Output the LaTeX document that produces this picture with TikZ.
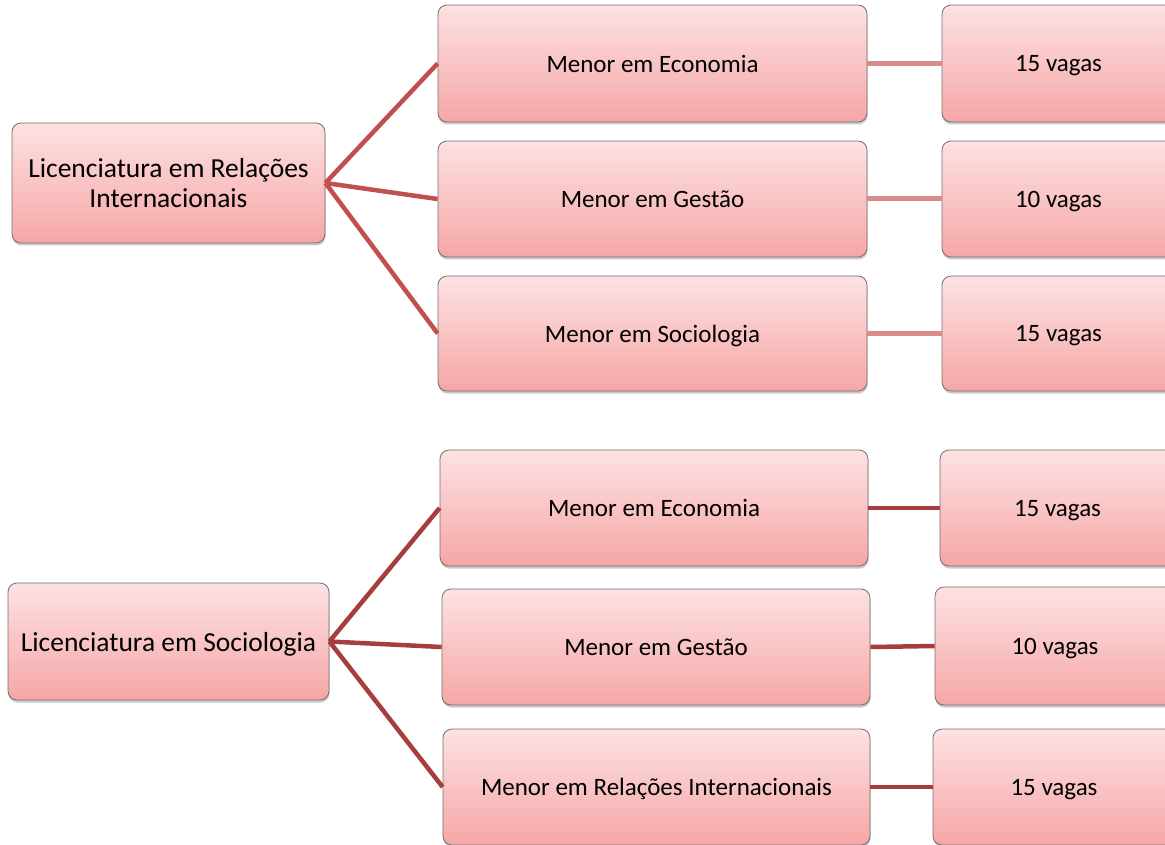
\documentclass[tikz,border=0pt]{standalone}
\usepackage{fontspec}
\setmainfont{Carlito}
\usetikzlibrary{shadows}
\definecolor{boxtop}{RGB}{253,226,227}
\definecolor{boxbot}{RGB}{246,166,166}
\definecolor{boxline}{RGB}{120,110,110}
\definecolor{linkA}{RGB}{192,80,77}
\definecolor{linkB}{RGB}{216,140,140}
\definecolor{linkC}{RGB}{165,62,60}
\tikzset{
  box/.style={draw=boxline, line width=0.8pt, rounded corners=9pt, top color=boxtop, bottom color=boxbot,
    align=center, inner sep=0pt, text depth=0pt, font=\fontsize{25}{29}\selectfont,
    drop shadow={opacity=0.35, shadow xshift=0.5pt, shadow yshift=-2.5pt, fill=black!60}},
  rootbox/.style={box, font=\fontsize{27.5}{30}\selectfont},
  linka/.style={draw=linkA, line width=4.5pt},
  linkb/.style={draw=linkB, line width=5pt},
  linkc/.style={draw=linkC, line width=4.5pt}
}
\begin{document}
\begin{tikzpicture}[x=1pt,y=-1pt]
\useasboundingbox (0,0) rectangle (1165,845);
% top group
\node[rootbox, minimum width=313pt, minimum height=120pt] (R1) at (168.5,183) {Licenciatura em Relações\\Internacionais};
\node[box, minimum width=429pt, minimum height=117pt] (E1) at (652.5,63.5) {Menor em Economia};
\node[box, minimum width=429pt, minimum height=116pt] (G1) at (652.5,199) {Menor em Gestão};
\node[box, minimum width=429pt, minimum height=115pt] (S1) at (652.5,333.5) {Menor em Sociologia};
\node[box, minimum width=233pt, minimum height=117pt] (V1) at (1058.5,63.5) {15 vagas};
\node[box, minimum width=233pt, minimum height=116pt] (V2) at (1058.5,199) {10 vagas};
\node[box, minimum width=233pt, minimum height=115pt] (V3) at (1058.5,333.5) {15 vagas};
% bottom group
\node[rootbox, minimum width=321pt, minimum height=117pt] (R2) at (168.5,641.5) {Licenciatura em Sociologia};
\node[box, minimum width=428pt, minimum height=116pt] (E2) at (654,508) {Menor em Economia};
\node[box, minimum width=428pt, minimum height=116pt] (G2) at (656,647) {Menor em Gestão};
\node[box, minimum width=427pt, minimum height=116pt] (M2) at (656.5,787) {Menor em Relações Internacionais};
\node[box, minimum width=235pt, minimum height=116pt] (V4) at (1057.5,508) {15 vagas};
\node[box, minimum width=240pt, minimum height=118pt] (V5) at (1055,646) {10 vagas};
\node[box, minimum width=242pt, minimum height=116pt] (V6) at (1054,787) {15 vagas};
% connectors
\draw[linka] (R1.east) -- (E1.west);
\draw[linka] (R1.east) -- (G1.west);
\draw[linka] (R1.east) -- (S1.west);
\draw[linkb] (E1.east) -- (V1.west);
\draw[linkb] (G1.east) -- (V2.west);
\draw[linkb] (S1.east) -- (V3.west);
\draw[linkc] (R2.east) -- (E2.west);
\draw[linkc] (R2.east) -- (G2.west);
\draw[linkc] (R2.east) -- (M2.west);
\draw[linkc] (E2.east) -- (V4.west);
\draw[linkc] (G2.east) -- (V5.west);
\draw[linkc] (M2.east) -- (V6.west);
\end{tikzpicture}
\end{document}
